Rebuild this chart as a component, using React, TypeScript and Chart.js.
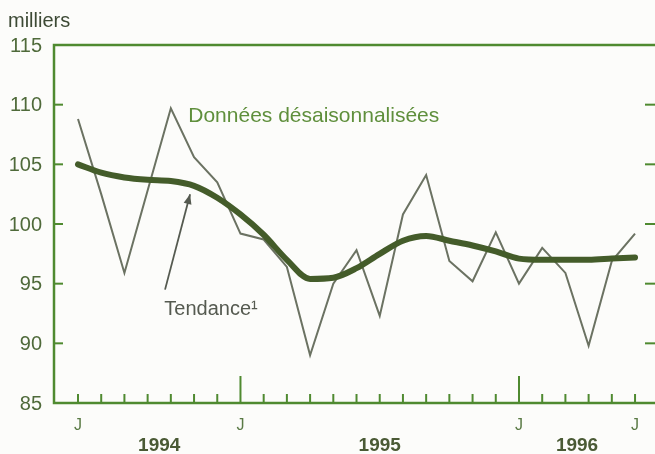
import React, { useEffect, useRef } from 'react';
import { Chart, registerables } from 'chart.js';

Chart.register(...registerables);

// Months from June 1994 (index 0) to June 1996 (index 24)
const monthLabels = ['J', 'J', 'A', 'S', 'O', 'N', 'D', 'J', 'F', 'M', 'A', 'M', 'J', 'J', 'A', 'S', 'O', 'N', 'D', 'J', 'F', 'M', 'A', 'M', 'J'];
const shownMonthLabels = [0, 7, 19, 24];
const majorTickMonths = [7, 19];
const yearLabels = ['1994', '1995', '1996'];
const yearCenters = [3.5, 13, 21.5];

// Seasonally adjusted data (thousands)
const rawSeries = [108.8, 102.5, 95.9, 102.8, 109.7, 105.6, 103.5, 99.2, 98.7, 96.4, 89.0, 95.0, 97.8, 92.3, 100.8, 104.1, 96.9, 95.2, 99.3, 95.0, 98.0, 95.9, 89.8, 96.9, 99.2];
// Trend
const trendSeries = [105.0, 104.3, 103.9, 103.7, 103.6, 103.2, 102.2, 100.8, 99.1, 97.0, 95.4, 95.5, 96.3, 97.5, 98.6, 99.0, 98.6, 98.2, 97.7, 97.1, 97.0, 97.0, 97.0, 97.1, 97.2];

const yTickValues = [85, 90, 95, 100, 105, 110, 115];

const FONT = '"Liberation Sans", Arial, Helvetica, sans-serif';
const AXIS = '#4f8a30';
const RAW = '#6b7262';
const TREND = '#445c2a';

function line(ctx: CanvasRenderingContext2D, x1: number, y1: number, x2: number, y2: number) {
  ctx.beginPath();
  ctx.moveTo(x1, y1);
  ctx.lineTo(x2, y2);
  ctx.stroke();
}

const framePlugin = {
  id: 'frame',
  beforeDatasetsDraw(chart: any) {
    const { ctx, chartArea: a, scales } = chart;
    const x = scales.x;
    const y = scales.y;
    ctx.save();
    ctx.strokeStyle = AXIS;
    ctx.lineWidth = 2.5;
    ctx.beginPath();
    ctx.moveTo(a.right, a.top);
    ctx.lineTo(a.left, a.top);
    ctx.lineTo(a.left, a.bottom);
    ctx.lineTo(a.right, a.bottom);
    ctx.stroke();
    ctx.lineWidth = 2;
    yTickValues.forEach((v) => {
      if (v === yTickValues[0] || v === yTickValues[yTickValues.length - 1]) return;
      const py = y.getPixelForValue(v);
      line(ctx, a.left, py, a.left + 9, py);
      line(ctx, a.right - 10, py, a.right, py);
    });
    monthLabels.forEach((_, i) => {
      const px = x.getPixelForValue(i);
      const h = majorTickMonths.includes(i) ? 27 : 9;
      line(ctx, px, a.bottom, px, a.bottom - h);
    });
    ctx.restore();
  },
  afterDraw(chart: any) {
    const { ctx, chartArea: a, scales } = chart;
    const x = scales.x;
    const y = scales.y;
    ctx.save();
    // y tick labels
    ctx.font = `20px ${FONT}`;
    ctx.fillStyle = '#4f6a3a';
    ctx.textAlign = 'right';
    ctx.textBaseline = 'middle';
    yTickValues.forEach((v) => {
      ctx.fillText(String(v), 42, y.getPixelForValue(v) + 1);
    });
    // unit
    ctx.fillStyle = '#3d4a35';
    ctx.textAlign = 'left';
    ctx.font = `20px ${FONT}`;
    ctx.fillText('milliers', 8, 21);
    // month labels
    ctx.font = `16px ${FONT}`;
    ctx.fillStyle = '#5a7a45';
    ctx.textAlign = 'center';
    shownMonthLabels.forEach((i) => {
      ctx.fillText(monthLabels[i], x.getPixelForValue(i), a.bottom + 23);
    });
    // year labels
    ctx.font = `bold 19px ${FONT}`;
    ctx.fillStyle = '#4a5a35';
    yearLabels.forEach((lab, k) => {
      ctx.fillText(lab, x.getPixelForValue(yearCenters[k]), a.bottom + 43);
    });
    // annotations
    ctx.textAlign = 'left';
    ctx.font = `21px ${FONT}`;
    ctx.fillStyle = '#5f8f3c';
    ctx.fillText('Données désaisonnalisées', x.getPixelForValue(4.75), y.getPixelForValue(109.0));
    ctx.font = `20px ${FONT}`;
    ctx.fillStyle = '#555a50';
    ctx.fillText('Tendance¹', x.getPixelForValue(3.72), y.getPixelForValue(92.8));
    // arrow
    const x1 = x.getPixelForValue(3.75), y1 = y.getPixelForValue(94.5);
    const x2 = x.getPixelForValue(4.83), y2 = y.getPixelForValue(102.5);
    ctx.strokeStyle = '#555a50';
    ctx.fillStyle = '#555a50';
    ctx.lineWidth = 1.8;
    line(ctx, x1, y1, x2, y2);
    const ang = Math.atan2(y2 - y1, x2 - x1);
    const L = 10, W = 4;
    ctx.beginPath();
    ctx.moveTo(x2, y2);
    ctx.lineTo(x2 - L * Math.cos(ang) + W * Math.sin(ang), y2 - L * Math.sin(ang) - W * Math.cos(ang));
    ctx.lineTo(x2 - L * Math.cos(ang) - W * Math.sin(ang), y2 - L * Math.sin(ang) + W * Math.cos(ang));
    ctx.closePath();
    ctx.fill();
    ctx.restore();
  },
};

export default function App() {
  const ref = useRef<HTMLCanvasElement | null>(null);
  useEffect(() => {
    if (!ref.current) return;
    const chart = new Chart(ref.current, {
      type: 'line',
      data: {
        datasets: [
          {
            label: 'Tendance',
            data: trendSeries.map((v, i) => ({ x: i, y: v })),
            borderColor: TREND,
            borderWidth: 6,
            pointRadius: 0,
            cubicInterpolationMode: 'monotone',
            borderCapStyle: 'round',
            borderJoinStyle: 'round',
            fill: false,
          },
          {
            label: 'Données désaisonnalisées',
            data: rawSeries.map((v, i) => ({ x: i, y: v })),
            borderColor: RAW,
            borderWidth: 2,
            pointRadius: 0,
            tension: 0,
            fill: false,
          },
        ],
      },
      options: {
        responsive: false,
        animation: false,
        events: [],
        layout: { padding: { left: 54, top: 45, right: 0, bottom: 51 } },
        plugins: { legend: { display: false }, tooltip: { enabled: false } },
        scales: {
          x: { type: 'linear', display: false, min: -1.034, max: 24.86 },
          y: { type: 'linear', display: false, min: 85, max: 115 },
        },
      },
      plugins: [framePlugin],
    } as any);
    return () => chart.destroy();
  }, []);
  return (
    <div style={{ position: 'fixed', left: 0, top: 0, width: 655, height: 454, background: '#fcfcfa' }}>
      <canvas ref={ref} width={655} height={454} style={{ display: 'block', width: 655, height: 454 }} />
    </div>
  );
}
